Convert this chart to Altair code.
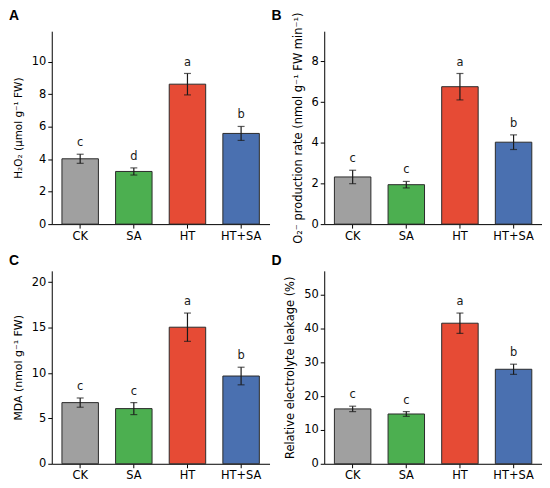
import altair as alt
import pandas as pd

categories = ["CK", "SA", "HT", "HT+SA"]
colors = ["#a0a0a0", "#4caf50", "#e64b35", "#4a70b0"]

h2o2_mean = [4.02, 3.24, 8.61, 5.58]
h2o2_err = [0.28, 0.22, 0.66, 0.43]
h2o2_letters = ["c", "d", "a", "b"]
h2o2_ticks = [0, 2, 4, 6, 8, 10]

o2_mean = [2.32, 1.94, 6.76, 4.03]
o2_err = [0.33, 0.16, 0.65, 0.36]
o2_letters = ["c", "c", "a", "b"]
o2_ticks = [0, 2, 4, 6, 8]

mda_mean = [6.74, 6.08, 15.05, 9.67]
mda_err = [0.51, 0.66, 1.56, 0.97]
mda_letters = ["c", "c", "a", "b"]
mda_ticks = [0, 5, 10, 15, 20]

rel_mean = [16.2, 14.7, 41.5, 27.9]
rel_err = [0.8, 0.7, 3.0, 1.5]
rel_letters = ["c", "c", "a", "b"]
rel_ticks = [0, 10, 20, 30, 40, 50]

PW, PH = 219, 194
INK = "#1a1a1a"


def panel(mean, err, letters, ticks, title, ymax, label, lx, ly, tsize):
    df = pd.DataFrame({
        "cat": categories,
        "mean": mean,
        "lo": [m - e for m, e in zip(mean, err)],
        "hi": [m + e for m, e in zip(mean, err)],
        "letter": letters,
    })
    x = alt.X("cat:N", sort=categories,
              scale=alt.Scale(domain=categories, paddingInner=0.32, paddingOuter=0.19),
              axis=alt.Axis(title=None, labelAngle=0))
    yscale = alt.Scale(domain=[0, ymax], nice=False, zero=True)
    yax = alt.Axis(title=title, values=ticks, labelOverlap=False, tickCount=len(ticks),
                   titleFontSize=tsize)
    base = alt.Chart(df)
    bars = base.mark_bar(stroke="#2a2a2a", strokeWidth=1).encode(
        x=x,
        y=alt.Y("mean:Q", scale=yscale, axis=yax),
        color=alt.Color("cat:N", scale=alt.Scale(domain=categories, range=colors), legend=None),
    )
    rule = base.mark_rule(color=INK, strokeWidth=1.2).encode(
        x=x, y=alt.Y("lo:Q", scale=yscale, axis=yax), y2="hi:Q")
    cap_hi = base.mark_tick(color=INK, size=7, thickness=1.2).encode(
        x=x, y=alt.Y("hi:Q", scale=yscale, axis=yax))
    cap_lo = base.mark_tick(color=INK, size=7, thickness=1.2).encode(
        x=x, y=alt.Y("lo:Q", scale=yscale, axis=yax))
    txt = base.mark_text(baseline="bottom", dy=-6, fontSize=11.5, color=INK).encode(
        x=x, y=alt.Y("hi:Q", scale=yscale, axis=yax), text="letter:N")
    lab = alt.Chart(pd.DataFrame({"t": [label]})).mark_text(
        align="center", baseline="middle", fontSize=14, fontWeight="bold",
        font="Liberation Sans", color="black").encode(
        x=alt.value(lx), y=alt.value(ly), text="t:N")
    return alt.layer(bars, rule, cap_hi, cap_lo, txt, lab).properties(width=PW, height=PH)


pA = panel(h2o2_mean, h2o2_err, h2o2_letters, h2o2_ticks,
           "H₂O₂ (μmol g⁻¹ FW)", 11.87, "A", -38, -15, 10.5)
pB = panel(o2_mean, o2_err, o2_letters, o2_ticks,
           "O₂⁻ production rate (nmol g⁻¹ FW min⁻¹)", 9.49, "B", -48, -15, 11.5)
pC = panel(mda_mean, mda_err, mda_letters, mda_ticks,
           "MDA (nmol g⁻¹ FW)", 21.26, "C", -38, -10, 11)
pD = panel(rel_mean, rel_err, rel_letters, rel_ticks,
           "Relative electrolyte leakage (%)", 56.96, "D", -48, -10, 11.5)

chart = alt.concat(pA, pB, pC, pD, columns=2,
                   spacing={"row": 47, "column": 55}, bounds="flush").properties(
    padding={"left": 0, "top": 0, "right": 0, "bottom": 0}
).configure_axis(
    labelFont="DejaVu Sans", titleFont="DejaVu Sans",
    labelFontSize=11.5, titleFontWeight="normal",
    labelColor="black", titleColor="black",
    domainColor="black", tickColor="black", domainWidth=1, tickWidth=1,
    grid=False, tickSize=4, labelPadding=2, titlePadding=8,
).configure_text(font="DejaVu Sans").configure_view(stroke=None)

chart.save("out.html", embed_options={"renderer": "svg", "actions": False})
